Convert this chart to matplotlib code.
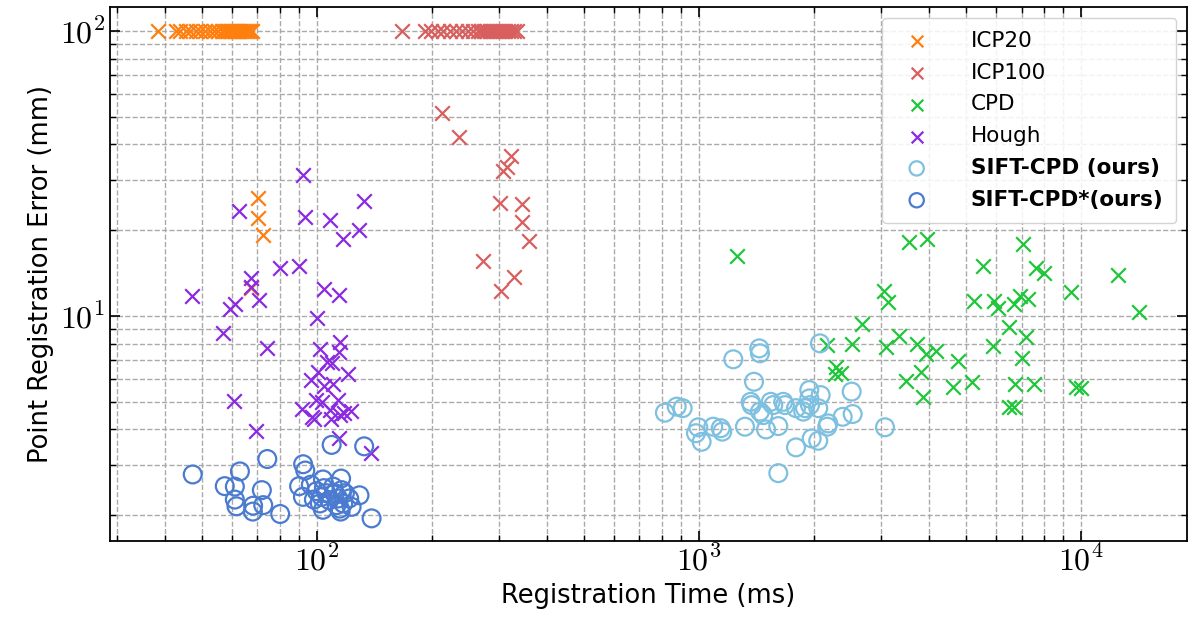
"""
registration error vs. registration time for the compared methods
"""
import numpy as np
import matplotlib
matplotlib.use('Agg')
import matplotlib.pyplot as plt
from matplotlib.ticker import LogLocator, NullFormatter, FuncFormatter

# --- Data: (time [ms], error [mm]); failed runs are clipped to 100 mm
icp20_t = [38.4, 42.8, 43.9, 45.5, 46.6, 48.3, 49.5, 51.0, 52.6, 53.8, 55.1, 56.5, 57.5,
           58.6, 59.3, 60.0, 60.7, 61.5, 62.2, 63.0, 63.7, 64.5, 65.3, 66.1, 66.9, 67.7,
           70.3, 70.1, 72.5, 67.3]
icp20_e = [100]*26 + [25.9, 22.0, 19.2, 12.5]

icp100_t = [167.2, 192.1, 199.2, 207.7, 214.1, 223.4, 231.6, 240.1, 249.0, 256.6, 264.5,
            269.3, 274.2, 279.2, 284.3, 289.5, 294.8, 300.2, 305.6, 311.2, 316.8, 322.6,
            328.5, 334.5,
            212.5, 236.2, 322.0, 315.5, 308.1, 301.9, 345.3, 345.3, 359.5, 273.0, 329.1, 303.2]
icp100_e = [100]*24 + [51.4, 42.6, 36.4, 33.3, 32.3, 24.9, 24.7, 21.3, 18.3, 15.6, 13.7, 12.2]

cpd_t = [1262, 3559, 3967, 7075, 5540, 7638, 8016, 12501, 9433, 14235, 3055, 3135, 5256,
         5939, 6084, 6702, 6936, 7266, 2671, 6491, 7191, 2163, 2524, 3087, 3344, 3722,
         3929, 4181, 4782, 5904, 7007, 2288, 2274, 2353, 3488, 3819, 3859, 4624, 5202,
         6730, 7545, 6491, 6702, 9703, 10018]
cpd_e = [16.28, 18.23, 18.58, 17.89, 14.97, 14.70, 14.19, 13.93, 12.11, 10.35, 12.27, 11.22,
         11.31, 11.29, 10.64, 11.02, 11.75, 11.47, 9.37, 9.17, 8.42, 7.91, 7.98, 7.77, 8.51,
         7.98, 7.34, 7.54, 6.97, 7.85, 7.11, 6.64, 6.26, 6.32, 5.91, 6.38, 5.21, 5.65, 5.85,
         5.77, 5.76, 4.81, 4.81, 5.62, 5.58]

hough_t = [92.2, 62.7, 93.2, 108.7, 132.8, 129.3, 117.3, 80.2, 89.9, 67.3, 67.3, 47.1, 61.2,
           59.3, 70.7, 104.6, 114.6, 100.5, 56.9, 74.0, 102.3, 115.1, 114.7, 106.2, 110.0,
           101.0, 120.8, 96.6, 104.6, 110.3, 60.8, 99.6, 103.1, 113.9, 91.6, 108.1, 97.0,
           98.2, 109.0, 115.1, 117.9, 123.0, 69.4, 114.6, 138.7]
hough_e = [31.2, 23.4, 22.2, 21.8, 25.4, 20.0, 18.6, 14.7, 15.0, 13.6, 12.6, 11.8, 11.0,
           10.55, 11.4, 12.4, 11.85, 9.86, 8.70, 7.70, 7.67, 8.10, 7.45, 6.91, 6.82, 6.38,
           6.27, 5.96, 5.70, 5.78, 5.04, 5.06, 5.00, 5.09, 4.71, 4.67, 4.42, 4.34, 4.36,
           4.49, 4.57, 4.64, 3.96, 3.72, 3.30]

sift_t = [816, 876, 908, 998, 984, 1018, 1092, 1142, 1153, 1232, 1322, 1396, 1441, 1447,
          1368, 1376, 1447, 1476, 1501, 1544, 1568, 1616, 1665, 1682, 1798, 1798, 1616,
          1878, 1898, 1948, 1948, 1956, 1976, 2056, 2086, 2056, 2184, 2171, 2382, 2515,
          2530, 2077, 3074]
sift_e = [4.58, 4.81, 4.75, 4.07, 3.88, 3.62, 4.09, 4.04, 3.93, 7.05, 4.09, 5.88, 7.70, 7.40,
          5.00, 4.87, 4.62, 4.49, 4.00, 5.00, 4.87, 4.11, 5.00, 4.87, 4.75, 3.46, 2.81,
          4.62, 4.75, 5.50, 5.14, 4.87, 3.72, 3.65, 5.28, 4.75, 4.20, 4.09, 4.43, 5.43,
          4.53, 8.02, 4.07]

siftx_t = [47.4, 57.5, 61.1, 63.0, 74.3, 71.9, 61.1, 61.7, 68.2, 68.1, 72.5, 80.3, 92.2,
           93.4, 90.0, 92.1, 96.6, 98.4, 100.0, 103.9, 103.9, 103.1, 104.5, 106.1, 107.9,
           110.5, 109.5, 111.7, 113.9, 115.9, 116.3, 115.1, 118.6, 117.4, 121.7, 123.5,
           129.5, 133.2, 139.3, 102.0, 112.8, 115.6]
siftx_e = [2.78, 2.53, 2.52, 2.85, 3.15, 2.45, 2.27, 2.15, 2.16, 2.06, 2.17, 2.02, 3.02,
           2.87, 2.53, 2.32, 2.56, 2.27, 2.43, 2.67, 2.09, 2.32, 2.49, 2.39, 2.26, 2.52,
           3.53, 2.39, 2.29, 2.69, 2.45, 2.11, 2.39, 2.20, 2.29, 2.14, 2.35, 3.49, 1.95,
           2.20, 2.17, 2.06]

# --- Plot
plt.rcParams['mathtext.fontset'] = 'cm'
plt.rcParams['font.family'] = ['DejaVu Sans']

fig, ax = plt.subplots(1, 1, figsize=(11.91, 6.21), dpi=100)
fig.subplots_adjust(left=0.0924, right=0.9966, top=0.9887, bottom=0.1288)

ax.scatter(icp20_t,  icp20_e,  marker='x', s=110, lw=1.6, color='#ff7f0e', label='ICP20', zorder=3)
ax.scatter(icp100_t, icp100_e, marker='x', s=110, lw=1.6, color='#d95f5f', label='ICP100', zorder=3)
ax.scatter(cpd_t,    cpd_e,    marker='x', s=110, lw=1.6, color='#1fc63a', label='CPD', zorder=3)
ax.scatter(hough_t,  hough_e,  marker='x', s=110, lw=1.6, color='#8a2be2', label='Hough', zorder=3)
ax.scatter(sift_t,   sift_e,   marker='o', s=165, lw=1.6, facecolors='none',
           edgecolors='#7ec0e0', label='SIFT-CPD (ours)', zorder=3)
ax.scatter(siftx_t,  siftx_e,  marker='o', s=165, lw=1.6, facecolors='none',
           edgecolors='#4a7bd0', label='SIFT-CPD*(ours)', zorder=3)

ax.set_xscale('log')
ax.set_yscale('log')
ax.set_xlim(28.8, 18970)
ax.set_ylim(1.624, 121.4)

pow10 = FuncFormatter(lambda v, pos: r'$10^{%d}$' % int(round(np.log10(v))))
ax.xaxis.set_major_locator(LogLocator(base=10, numticks=10))
ax.xaxis.set_minor_locator(LogLocator(base=10, subs=range(2, 10), numticks=20))
ax.yaxis.set_minor_locator(LogLocator(base=10, subs=range(2, 10), numticks=20))
ax.xaxis.set_major_formatter(pow10)
ax.yaxis.set_major_formatter(pow10)
ax.xaxis.set_minor_formatter(NullFormatter())
ax.yaxis.set_minor_formatter(NullFormatter())

ax.grid(True, which='both', ls='--', lw=1.0, color='#aaaaaa', zorder=0)
ax.set_axisbelow(True)
ax.tick_params(which='both', direction='in', top=True, right=True, labelsize=23)
ax.tick_params(which='major', length=7, width=1.2)
ax.tick_params(which='minor', length=4, width=1.0)
for sp in ax.spines.values():
    sp.set_linewidth(1.3)

ax.set_xlabel('Registration Time (ms)', fontsize=18.5)
ax.set_ylabel('Point Registration Error (mm)', fontsize=18.5)

leg = ax.legend(loc='upper right', fontsize=15.5, framealpha=0.85, edgecolor='#cccccc',
                handletextpad=1.5, borderpad=0.6, labelspacing=0.55, markerscale=0.8)
for txt in leg.get_texts()[4:]:
    txt.set_fontweight('bold')

fig.savefig('out.png', dpi=100)
